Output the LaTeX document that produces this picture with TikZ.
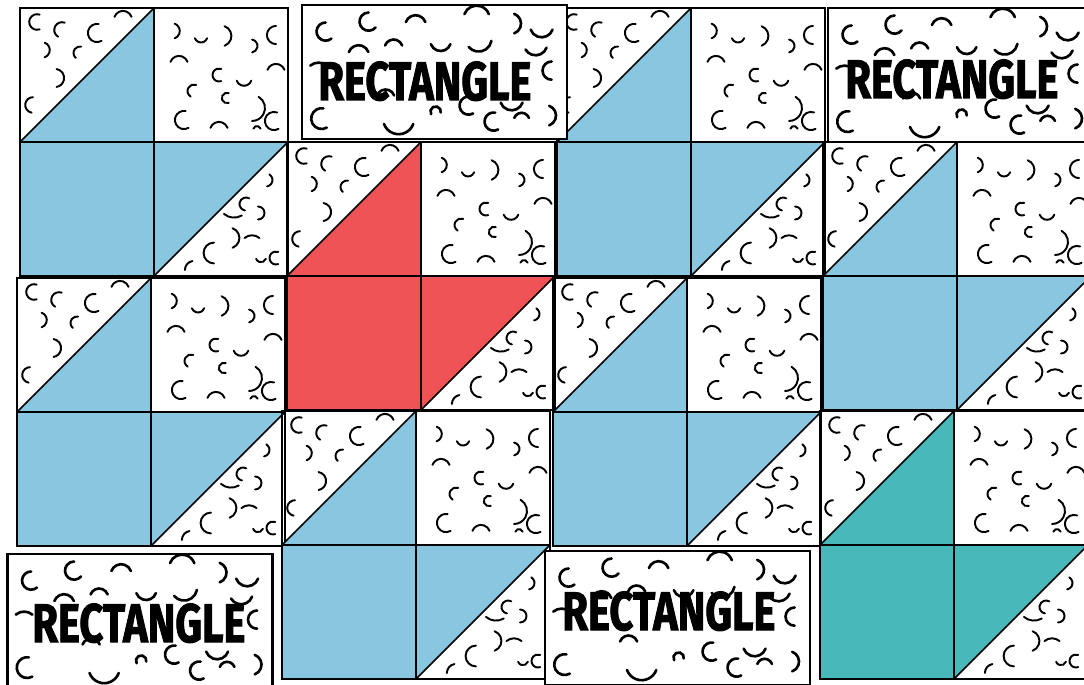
\documentclass[tikz,border=0pt]{standalone}
\usepackage{fontspec}
\newfontfamily\rectfont{Fira Sans}[FakeBold=2]

\definecolor{pawblue}{HTML}{89C6DF}
\definecolor{pawred}{HTML}{F05355}
\definecolor{pawteal}{HTML}{48B8BB}

% squiggle lists: x/y/start angle/delta angle/radius (pixel units, y down)
\def\squaresq{18/23/-70/140/6, 47/28/20/140/5, 67/28/-70/140/8, 97/38/-80/160/5,
  122/27/90/180/7, 25/57/200/140/7, 65/67/70/220/5, 90/70/20/140/6,
  122/65/200/140/7, 40/83/120/170/5, 73/90/70/220/4, 98/100/-60/150/10,
  30/112/60/220/7, 65/123/200/140/7, 103/122/200/140/3, 120/113/60/230/7}
\def\hstasq{17/14/70/220/6, 42/22/120/170/6, 77/25/60/220/7, 103/12/200/140/7,
  22/42/-70/140/6, 60/45/130/150/5, 35/70/-80/160/7, 13/97/100/170/6}
\def\hstbsq{112/38/-60/140/5, 92/62/100/200/5, 104/71/-90/180/5, 80/60/60/70/12,
  75/96/-70/140/8, 60/111/90/180/8, 98/105/230/80/9, 107/115/20/140/4,
  122/116/70/220/5, 40/128/180/80/7}
\def\rectsq{25/28/50/220/7, 68/18/40/230/7, 115/22/200/140/8, 140/37/20/140/8,
  176/15/200/140/10, 178/35/10/130/10, 210/20/-70/140/8, 241/22/20/140/9,
  235/40/20/130/9, 58/52/200/140/8, 93/45/200/140/7, 251/67/90/180/7,
  21/115/60/220/8, 98/115/20/140/12, 135/108/150/220/4, 168/102/60/220/7,
  193/118/60/220/7, 221/117/200/140/6, 245/112/-70/140/8, 85/95/200/140/7,
  211/95/20/140/9, 18/72/230/80/10}

\newcommand{\squigs}[3]{%
  \foreach \sx/\sy/\sa/\sd/\sr in #3
    \draw[squig] ({#1+\sx},{#2+\sy}) ++(\sa:1.3*\sr) arc[start angle=\sa, delta angle=\sd, radius=1.3*\sr];
}
% half square, colour lower right
\newcommand{\hsta}[3]{%
  \fill[#3] (#1,{#2+134}) -- ({#1+134},#2) -- ({#1+134},{#2+134}) -- cycle;
  \squigs{#1}{#2}{\hstasq}
  \draw[diagline] (#1,{#2+134}) -- ({#1+134},#2);
  \draw[tileedge] (#1,#2) rectangle ({#1+134},{#2+134});
}
% half square, colour upper left
\newcommand{\hstb}[3]{%
  \fill[#3] (#1,#2) -- ({#1+134},#2) -- (#1,{#2+134}) -- cycle;
  \squigs{#1}{#2}{\hstbsq}
  \draw[diagline] (#1,{#2+134}) -- ({#1+134},#2);
  \draw[tileedge] (#1,#2) rectangle ({#1+134},{#2+134});
}
\newcommand{\whitesq}[2]{%
  \fill[white] (#1,#2) rectangle ({#1+134},{#2+134});
  \squigs{#1}{#2}{\squaresq}
  \draw[tileedge] (#1,#2) rectangle ({#1+134},{#2+134});
}
\newcommand{\fullsq}[3]{%
  \draw[tileedge, fill=#3] (#1,#2) rectangle ({#1+134},{#2+134});
}
\newcommand{\paw}[3]{%
  \hsta{#1}{#2}{#3}
  \whitesq{#1+134}{#2}
  \fullsq{#1}{#2+134}{#3}
  \hstb{#1+134}{#2+134}{#3}
}
\newcommand{\wordbox}{\resizebox{4.26cm}{0.77cm}{\rectfont\bfseries RECTANGLE}}

\begin{document}
\begin{tikzpicture}[
    x=0.02cm, y=-0.02cm,
    tileedge/.style={draw=black, line width=1.2pt},
    diagline/.style={black, line width=0.9pt},
    squig/.style={black, line width=1.1pt, line cap=round},
    rectbox/.style={draw=black, fill=white, line width=1.6pt, inner sep=0pt,
      minimum width=5.3cm, minimum height=2.68cm},
    rectword/.style={inner sep=0pt, anchor=base west}
  ]
  \useasboundingbox (0,0) rectangle (1084,685);
  \clip (0,0) rectangle (1084,685);
  \fill[white] (0,0) rectangle (1084,685);

  % paw blocks
  \paw{20}{8}{pawblue}
  \paw{557}{8}{pawblue}
  \paw{287}{142}{pawred}
  \paw{823}{142}{pawblue}
  \paw{17}{278}{pawblue}
  \paw{553}{278}{pawblue}
  \paw{282}{411}{pawblue}
  \paw{820}{411}{pawteal}

  % rectangles
  \node[rectbox] (rect1) at (434.5,72) {};
  \node[rectbox] (rect2) at (960.5,75) {};
  \node[rectbox] (rect3) at (140,621) {};
  \node[rectbox] (rect4) at (677.5,618) {};
  \foreach \r in {rect1, rect2, rect3, rect4} {
    \begin{scope}[shift={(\r.north west)}, squig/.append style={line width=1.5pt}]
      \squigs{0}{0}{\rectsq}
    \end{scope}
  }
  \node[rectword] (word1) at (318,100) {\wordbox};
  \node[rectword] (word2) at (845,98) {\wordbox};
  \node[rectword] (word3) at (32,642) {\wordbox};
  \node[rectword] (word4) at (562,630) {\wordbox};
\end{tikzpicture}
\end{document}
